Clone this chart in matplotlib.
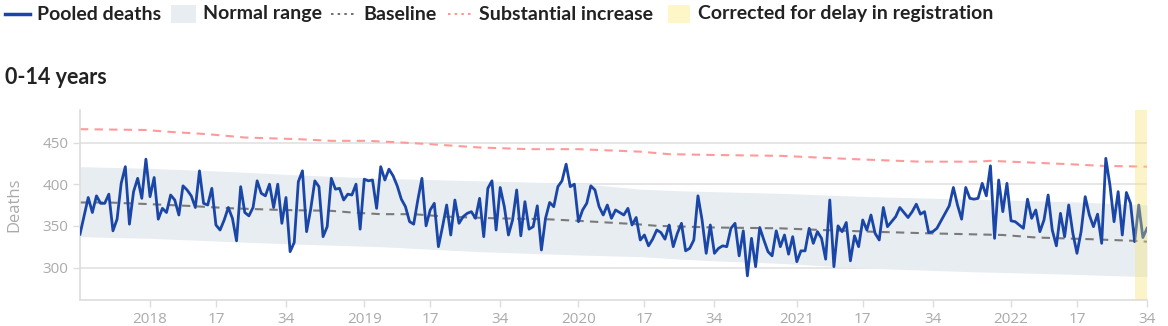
import matplotlib
matplotlib.use("Agg")
import matplotlib.pyplot as plt
from matplotlib.lines import Line2D
from matplotlib.patches import Rectangle
import numpy as np

# weekly pooled deaths, 2017 w36 .. 2022 w34
pooled = [
    340, 362, 384, 366, 386, 377, 377, 388, 344, 358, 401, 421, 352, 391, 407, 383, 430, 385, 408, 358,
    371, 366, 387, 381, 363, 398, 393, 386, 372, 416, 377, 375, 395, 351, 345, 357, 372, 359, 332, 397,
    366, 362, 372, 404, 389, 386, 400, 372, 400, 353, 384, 319, 330, 403, 416, 343, 370, 404, 397, 337,
    349, 407, 394, 395, 381, 388, 387, 400, 346, 406, 404, 405, 371, 421, 405, 418, 410, 398, 382, 373,
    355, 352, 381, 407, 350, 369, 377, 325, 349, 375, 339, 381, 353, 361, 365, 367, 359, 383, 337, 395,
    404, 345, 396, 373, 339, 357, 393, 338, 379, 346, 349, 374, 321, 359, 378, 373, 397, 404, 424, 397,
    400, 355, 369, 377, 398, 393, 373, 363, 375, 359, 369, 366, 363, 371, 351, 360, 333, 339, 326, 334,
    345, 342, 334, 351, 325, 341, 353, 320, 323, 333, 386, 357, 317, 351, 317, 323, 326, 325, 347, 353,
    314, 344, 290, 335, 301, 348, 333, 319, 314, 344, 325, 339, 316, 337, 307, 320, 320, 347, 329, 343,
    335, 310, 381, 301, 350, 343, 354, 308, 338, 325, 357, 345, 363, 341, 333, 372, 349, 355, 361, 372,
    366, 360, 367, 376, 364, 367, 342, 343, 347, 356, 365, 374, 396, 375, 358, 396, 383, 382, 383, 401,
    386, 422, 335, 405, 367, 401, 356, 355, 351, 347, 382, 359, 369, 343, 357, 387, 345, 326, 365, 337,
    375, 341, 317, 343, 385, 363, 349, 364, 329, 431, 399, 355, 391, 339, 390, 377, 331, 375, 336, 347,
]

# baseline and thresholds, read at a few weeks
base_wk = [0, 7, 17, 26, 37, 49, 61, 66, 73, 81, 89, 101, 113, 121, 128, 135, 140, 154, 170, 180,
           192, 206, 224, 232, 245, 256, 259]
base_val = [378, 378, 376, 374, 371, 369, 368, 366, 364, 364, 361, 359, 358, 356, 354, 352, 350, 348,
            347, 345, 343, 341, 339, 336, 334, 332, 331]

incr_wk = [0, 16, 21, 31, 40, 53, 61, 70, 78, 85, 97, 109, 121, 136, 143, 154, 170, 188, 204, 218,
           221, 240, 248, 259]
incr_val = [466, 465, 463, 460, 456, 454, 452, 452, 450, 448, 444, 442, 442, 439, 436, 435, 434, 430,
            427, 427, 428, 424, 422, 421]

band_wk = [0, 17, 37, 53, 73, 97, 121, 136, 146, 154, 170, 192, 216, 240, 259]
band_hi = [421, 419, 415, 411, 407, 404, 401, 394, 392, 391, 389, 385, 382, 379, 375]
band_lo = [337, 335, 331, 328, 325, 319, 315, 313, 310, 308, 305, 299, 295, 292, 289]

tick_wk = [17, 33, 50, 69, 85, 102, 121, 137, 154, 174, 190, 207, 226, 242, 259]
tick_lab = ["2018", "17", "34", "2019", "17", "34", "2020", "17", "34", "2021", "17", "34", "2022", "17", "34"]
year_wk = [17, 69, 121, 174, 226]
delay_from = 256

BLUE = "#1a46a8"
GREY = "#aaaaaa"
DARK = "#222222"

plt.rcParams["font.family"] = ["Lato", "DejaVu Sans"]

fig = plt.figure(figsize=(11.68, 3.26), dpi=100)
ax = fig.add_axes([80 / 1168, 1 - 300 / 326, 1067 / 1168, 190 / 326])

x = np.arange(len(pooled))
ax.fill_between(band_wk, band_lo, band_hi, color="#e8edf2", lw=0, zorder=1)
ax.plot(base_wk, base_val, color="#7a7a7a", ls=(0, (4, 3)), lw=1.5, zorder=2)
ax.plot(incr_wk, incr_val, color="#ff9a9a", ls=(0, (4, 3)), lw=1.5, zorder=2)
ax.plot(x, pooled, color=BLUE, lw=2.0, zorder=3)
ax.axvspan(delay_from, len(pooled) - 1, color="#f9e265", alpha=0.35, lw=0, zorder=4)

ax.set_xlim(0, len(pooled) - 1)
ax.set_ylim(261, 489)
ax.set_yticks([300, 350, 400, 450])
ax.set_xticks(tick_wk)
ax.set_xticklabels(tick_lab)
ax.set_xticks(year_wk, minor=True)
ax.grid(axis="y", color="#e2e2e2", lw=1.2, zorder=0)
ax.grid(axis="x", which="minor", color="#e2e2e2", lw=1.2, zorder=0)
ax.tick_params(which="minor", length=0)
ax.tick_params(axis="both", colors="#dddddd", labelcolor=GREY, labelsize=11, length=5, width=1)
ax.set_axisbelow(True)
for s in ["top", "right"]:
    ax.spines[s].set_visible(False)
for s in ["left", "bottom"]:
    ax.spines[s].set_color("#dddddd")
    ax.spines[s].set_linewidth(1.2)
for lab in ax.get_xticklabels() + ax.get_yticklabels():
    lab.set_family(["Open Sans", "DejaVu Sans"])
ax.set_ylabel("Deaths", color=GREY, fontsize=12, family=["Open Sans", "DejaVu Sans"])
ax.yaxis.set_label_coords(-0.054, 0.5)

fig.text(5 / 1168, 1 - 78 / 326, "0-14 years", fontsize=15.5, fontweight="bold", color=DARK,
         va="center", ha="left")

# legend row
ly = 1 - 14 / 326
def px(v):
    return v / 1168
fs = 14
fig.add_artist(Line2D([px(5), px(30)], [ly, ly], color=BLUE, lw=2.5))
fig.text(px(37), ly, "Pooled deaths", fontsize=fs, fontweight="bold", color=DARK, va="center")
fig.add_artist(Rectangle((px(171), 1 - 23 / 326), px(25), 18 / 326, color="#e8edf2", lw=0))
fig.text(px(203), ly, "Normal range", fontsize=fs, fontweight="bold", color=DARK, va="center")
fig.add_artist(Line2D([px(331), px(356)], [ly, ly], color="#555555", lw=1.2, ls=(0, (1.5, 2.5))))
fig.text(px(363), ly, "Baseline", fontsize=fs, fontweight="bold", color=DARK, va="center")
fig.add_artist(Line2D([px(448), px(473)], [ly, ly], color="#ff8080", lw=1.2, ls=(0, (1.5, 2.5))))
fig.text(px(479), ly, "Substantial increase", fontsize=fs, fontweight="bold", color=DARK, va="center")
fig.add_artist(Rectangle((px(668), 1 - 23 / 326), px(22), 18 / 326, color="#fff6c8", lw=0))
fig.text(px(698), ly, "Corrected for delay in registration", fontsize=fs, fontweight="bold",
         color=DARK, va="center")

fig.savefig("out.png", dpi=100)
